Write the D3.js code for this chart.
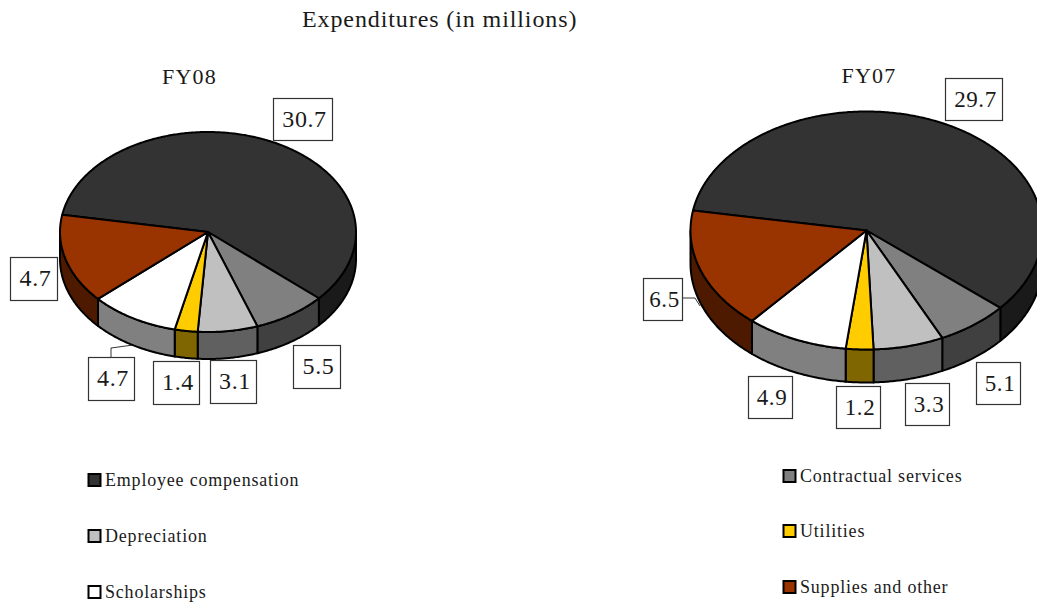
<!DOCTYPE html>
<html>
<head>
<meta charset="utf-8">
<script src="https://cdn.jsdelivr.net/npm/d3@7"></script>
<style>
    html, body { margin: 0; padding: 0; background: #fff; overflow: hidden; }
    svg { display: block; }
    text { font-family: "Liberation Serif", serif; fill: #1a1a1a; }
</style>
</head>
<body>
<svg id="drawing_region"></svg>
<script>
const categories = ["Employee compensation", "Contractual services", "Depreciation", "Utilities", "Scholarships", "Supplies and other"];
const colors = ["#333333", "#808080", "#c0c0c0", "#ffcc00", "#ffffff", "#993300"];

// printed labels, as in the reference
const fy08Labels = ["30.7", "5.5", "3.1", "1.4", "4.7", "4.7"];
const fy07Labels = ["29.7", "5.1", "3.3", "1.2", "4.9", "6.5"];

// slice spans in degrees as drawn in the picture (not proportional to the labels)
const fy08Spans = [211.5, 29, 23.5, 9, 35, 52];
const fy07Spans = [210.8, 24, 23.2, 9.1, 33.8, 59.1];

const legendOrder = [
    {name: categories[0], x: 88, y: 480},
    {name: categories[2], x: 88, y: 536},
    {name: categories[4], x: 88, y: 592},
    {name: categories[1], x: 783, y: 476},
    {name: categories[3], x: 783, y: 531},
    {name: categories[5], x: 783, y: 587}
];

const svg = d3.select("#drawing_region")
    .attr("width", 1037)
    .attr("height", 605);

class Pie3D {
    constructor(config, spans, labels) {
        this.config = config;
        this.spans = spans;
        this.labels = labels;
        this.init();
    }

    init() {
        const self = this;
        const cfg = self.config;

        self.chart = svg.append("g");
        self.xscale = d3.scaleLinear().domain([-1, 1]).range([cfg.cx - cfg.rx, cfg.cx + cfg.rx]);
        self.yscale = d3.scaleLinear().domain([-1, 1]).range([cfg.cy - cfg.ry, cfg.cy + cfg.ry]);
        self.line = d3.line();

        // keep original order, start the employee slice at the upper left
        self.slices = d3.pie()
            .sort(null)
            .startAngle(cfg.start * Math.PI / 180)
            .endAngle((cfg.start + 360) * Math.PI / 180)(self.spans);
    }

    point(a, drop = 0) {
        return [this.xscale(Math.sin(a)), this.yscale(-Math.cos(a)) + drop];
    }

    rim(a0, a1, drop = 0) {
        const n = Math.max(2, Math.ceil(Math.abs(a1 - a0) / 0.01));
        return d3.range(n + 1).map(i => this.point(a0 + (a1 - a0) * i / n, drop));
    }

    render() {
        const self = this;
        const cfg = self.config;
        const tau = 2 * Math.PI;

        // sides: only the front half of the rim shows
        const sides = [];
        self.slices.forEach(s => {
            [0, tau].forEach(shift => {
                const a0 = Math.max(s.startAngle - shift, Math.PI / 2);
                const a1 = Math.min(s.endAngle - shift, 3 * Math.PI / 2);
                if (a1 > a0) sides.push({index: s.index, a0, a1});
            });
        });

        self.chart.selectAll(".side")
            .data(sides)
            .join("path")
            .attr("class", "side")
            .attr("d", d => self.line(self.rim(d.a0, d.a1).concat(self.rim(d.a1, d.a0, cfg.depth))) + "Z")
            .attr("fill", d => {
                const c = d3.rgb(colors[d.index]);
                return d3.rgb(c.r * 0.5, c.g * 0.5, c.b * 0.5);
            })
            .attr("stroke", "#000")
            .attr("stroke-width", 2)
            .attr("stroke-linejoin", "round");

        self.chart.selectAll(".top")
            .data(self.slices)
            .join("path")
            .attr("class", "top")
            .attr("d", d => self.line([[cfg.cx, cfg.cy]].concat(self.rim(d.startAngle, d.endAngle))) + "Z")
            .attr("fill", d => colors[d.index])
            .attr("stroke", "#000")
            .attr("stroke-width", 2)
            .attr("stroke-linejoin", "round");

        svg.append("text")
            .attr("x", cfg.titleX)
            .attr("y", cfg.titleY)
            .attr("text-anchor", "middle")
            .attr("font-size", 22)
            .attr("letter-spacing", 1.2)
            .text(cfg.title);

        self.chart.selectAll(".leader")
            .data(cfg.leaders)
            .join("path")
            .attr("class", "leader")
            .attr("d", d => self.line(d))
            .attr("fill", "none")
            .attr("stroke", "#000")
            .attr("stroke-width", 0.8);

        const box = self.chart.selectAll(".label")
            .data(cfg.boxes)
            .join("g")
            .attr("class", "label")
            .attr("transform", d => `translate(${d.x},${d.y})`);

        box.append("rect")
            .attr("width", d => d.w)
            .attr("height", d => d.h)
            .attr("fill", "#fff")
            .attr("stroke", "#333")
            .attr("stroke-width", 1.2);

        box.append("text")
            .attr("x", d => d.w / 2 + 1.5)
            .attr("y", d => d.h / 2 + 7)
            .attr("text-anchor", "middle")
            .attr("font-size", cfg.labelSize)
            .attr("letter-spacing", 0.6)
            .text((d, i) => self.labels[i]);
    }
}

new Pie3D({
    title: "FY08", titleX: 189.5, titleY: 84,
    cx: 208, cy: 232, rx: 148, ry: 100, depth: 27, start: 280, labelSize: 24,
    boxes: [
        {x: 273.5, y: 98.5, w: 59, h: 42},
        {x: 293.5, y: 345.5, w: 47, h: 43},
        {x: 210.5, y: 360.5, w: 46, h: 43},
        {x: 153.5, y: 361.5, w: 46, h: 43},
        {x: 88.5, y: 357.5, w: 46, h: 43},
        {x: 10.5, y: 257.5, w: 47, h: 43}
    ],
    leaders: [[[111, 357], [111, 348], [133, 345]]]
}, fy08Spans, fy08Labels).render();

new Pie3D({
    title: "FY07", titleX: 869, titleY: 83,
    cx: 866.5, cy: 230.5, rx: 176, ry: 119, depth: 33, start: 279.7, labelSize: 23,
    boxes: [
        {x: 945.5, y: 78.5, w: 57, h: 42},
        {x: 976.5, y: 362.5, w: 44, h: 42},
        {x: 905.5, y: 383.5, w: 44, h: 42},
        {x: 836.5, y: 386.5, w: 44, h: 42},
        {x: 748.5, y: 376.5, w: 44, h: 42},
        {x: 643.5, y: 278.5, w: 39, h: 42}
    ],
    leaders: [[[683, 298], [695, 298], [700, 306]]]
}, fy07Spans, fy07Labels).render();

svg.append("text")
    .attr("x", 302)
    .attr("y", 27)
    .attr("font-size", 24)
    .attr("letter-spacing", 0.9)
    .text("Expenditures (in millions)");

const legend = svg.selectAll(".legend")
    .data(legendOrder)
    .join("g")
    .attr("class", "legend")
    .attr("transform", d => `translate(${d.x},${d.y})`);

legend.append("rect")
    .attr("x", 0.5)
    .attr("y", -6)
    .attr("width", 12)
    .attr("height", 12)
    .attr("fill", d => colors[categories.indexOf(d.name)])
    .attr("stroke", "#000")
    .attr("stroke-width", 2);

legend.append("text")
    .attr("x", 17)
    .attr("y", 6)
    .attr("font-size", 18)
    .attr("letter-spacing", 0.8)
    .text(d => d.name);
</script>
</body>
</html>
